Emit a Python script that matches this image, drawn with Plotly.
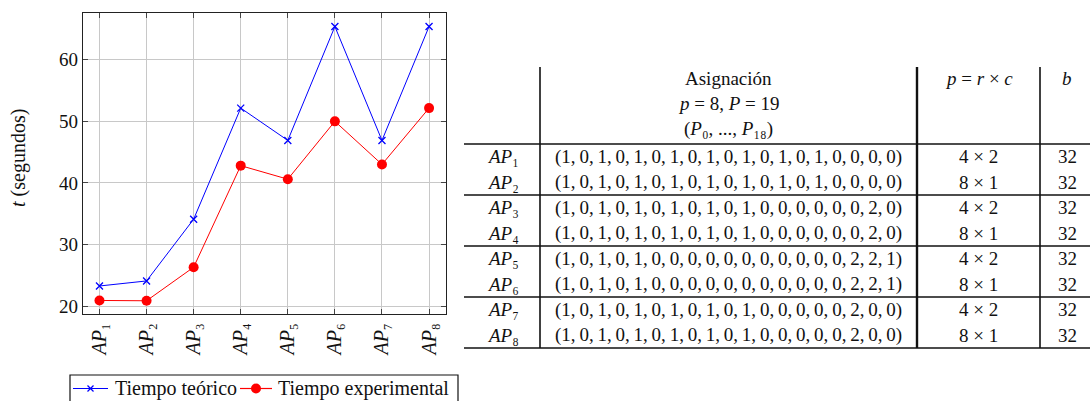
import plotly.graph_objects as go

# ---------------- data ----------------
SUB = str.maketrans("0123456789", "₀₁₂₃₄₅₆₇₈₉")
categories = ["AP1", "AP2", "AP3", "AP4", "AP5", "AP6", "AP7", "AP8"]
tick_labels = ["<i>AP</i>" + str(i).translate(SUB) for i in range(1, 9)]
t_teorico = [23.25, 24.07, 34.1, 52.15, 46.9, 65.4, 46.9, 65.4]
t_experimental = [20.9, 20.85, 26.3, 42.8, 40.6, 50.0, 43.0, 52.15]
y_ticks = [20, 30, 40, 50, 60]

asignaciones = [
    [1, 0, 1, 0, 1, 0, 1, 0, 1, 0, 1, 0, 1, 0, 1, 0, 0, 0, 0],
    [1, 0, 1, 0, 1, 0, 1, 0, 1, 0, 1, 0, 1, 0, 1, 0, 0, 0, 0],
    [1, 0, 1, 0, 1, 0, 1, 0, 1, 0, 1, 0, 0, 0, 0, 0, 0, 2, 0],
    [1, 0, 1, 0, 1, 0, 1, 0, 1, 0, 1, 0, 0, 0, 0, 0, 0, 2, 0],
    [1, 0, 1, 0, 1, 0, 0, 0, 0, 0, 0, 0, 0, 0, 0, 0, 2, 2, 1],
    [1, 0, 1, 0, 1, 0, 0, 0, 0, 0, 0, 0, 0, 0, 0, 0, 2, 2, 1],
    [1, 0, 1, 0, 1, 0, 1, 0, 1, 0, 1, 0, 0, 0, 0, 0, 2, 0, 0],
    [1, 0, 1, 0, 1, 0, 1, 0, 1, 0, 1, 0, 0, 0, 0, 0, 2, 0, 0],
]
mallas = ["4 × 2", "8 × 1", "4 × 2", "8 × 1", "4 × 2", "8 × 1", "4 × 2", "8 × 1"]
bloques = [32, 32, 32, 32, 32, 32, 32, 32]

header_asig = ["Asignación", "<i>p</i> = 8, <i>P</i> = 19",
               "(<i>P</i>₀, ..., <i>P</i>₁₈)"]
header_grid = "<i>p</i> = <i>r</i> × <i>c</i>"
header_b = "<i>b</i>"
series_names = ["Tiempo teórico", "Tiempo experimental"]
series_colors = ["#0000ff", "#ff0000"]

# ---------------- layout constants ----------------
W, H = 1090, 401
FONT = "Liberation Serif"
TXT = "#111111"
px_l, px_r, px_t, px_b = 83, 446, 13, 314


def px(xp):
    return xp / W


def py(yp):
    return 1 - yp / H


fig = go.Figure()

fig.add_trace(go.Scatter(
    x=categories, y=t_teorico, mode="lines+markers", name=series_names[0],
    line=dict(color=series_colors[0], width=1),
    marker=dict(symbol="x-thin", size=7, color=series_colors[0],
                line=dict(color=series_colors[0], width=1.3))))
fig.add_trace(go.Scatter(
    x=categories, y=t_experimental, mode="lines+markers", name=series_names[1],
    line=dict(color=series_colors[1], width=1),
    marker=dict(symbol="circle", size=10, color=series_colors[1])))

axis_common = dict(showline=True, linecolor="#222222", linewidth=1.3, mirror="ticks",
                   ticks="inside", ticklen=5, tickcolor="#444444", tickwidth=1,
                   showgrid=True, gridcolor="#c8c8c8", gridwidth=1, zeroline=False,
                   automargin=False)

fig.update_layout(
    width=W, height=H, margin=dict(l=0, r=0, t=0, b=0),
    paper_bgcolor="white", plot_bgcolor="white",
    font=dict(family=FONT, color=TXT),
    xaxis=dict(domain=[px(px_l), px(px_r)], type="category",
               range=[-0.35, 7.36], tickvals=categories, ticktext=tick_labels,
               tickangle=-90, tickfont=dict(family=FONT, size=20, color=TXT),
               **axis_common),
    yaxis=dict(domain=[py(px_b), py(px_t)], range=[18.7, 67.6],
               tickvals=y_ticks,
               tickfont=dict(family=FONT, size=19, color=TXT), **axis_common),
    showlegend=False,
)

# y axis title
fig.add_annotation(text="<i>t</i> (segundos)", textangle=-90, x=px(18), y=py(158),
                   xref="paper", yref="paper", showarrow=False,
                   xanchor="center", yanchor="middle",
                   font=dict(family=FONT, size=20, color=TXT))

# ---------------- legend (drawn box) ----------------
leg_top, leg_bot, leg_l, leg_r, leg_y = 375, 404, 70, 458, 388.5
fig.add_shape(type="rect", x0=px(leg_l), x1=px(leg_r), y0=py(leg_top), y1=py(leg_bot),
              xref="paper", yref="paper", line=dict(color=TXT, width=1.2),
              fillcolor="white", layer="above")
leg_items = [(73, 108, 113), (240, 272, 276)]
for k, (l0, l1, tx) in enumerate(leg_items):
    c = series_colors[k]
    fig.add_shape(type="line", x0=px(l0), x1=px(l1), y0=py(leg_y), y1=py(leg_y),
                  xref="paper", yref="paper", line=dict(color=c, width=1.2))
    mx = (l0 + l1) / 2
    if k == 0:
        for s in (1, -1):
            fig.add_shape(type="line", x0=px(mx - 3), x1=px(mx + 3),
                          y0=py(leg_y - 3 * s), y1=py(leg_y + 3 * s),
                          xref="paper", yref="paper", line=dict(color=c, width=1.3))
    else:
        fig.add_shape(type="circle", x0=px(mx - 5), x1=px(mx + 5),
                      y0=py(leg_y - 5), y1=py(leg_y + 5), xref="paper", yref="paper",
                      line=dict(color=c, width=0), fillcolor=c)
    fig.add_annotation(text=series_names[k], x=px(tx), y=py(leg_y), xref="paper",
                       yref="paper", showarrow=False, xanchor="left", yanchor="middle",
                       font=dict(family=FONT, size=20, color=TXT))

# ---------------- table (laid out in paper coordinates) ----------------
col_edges = [464, 540, 917, 1040, W]
col_centers = [503, (540 + 917) / 2, (917 + 1040) / 2, 1067]
head_top, head_bot, row_h = 67, 144, 25.5


def ann(text, x, y, size=19):
    fig.add_annotation(text=text, x=px(x), y=py(y), xref="paper", yref="paper",
                       showarrow=False, xanchor="center", yanchor="middle",
                       font=dict(family=FONT, size=size, color=TXT))


# header
for k, line in enumerate(header_asig):
    ann(line, col_centers[1], 78 + k * 25.5)
ann(header_grid, col_centers[2], 78)
ann(header_b, col_centers[3], 78)

# body
for i in range(len(categories)):
    yc = head_bot + row_h * (i + 0.5)
    ann(tick_labels[i], col_centers[0], yc)
    ann("(" + ",\u2009".join(str(v) for v in asignaciones[i]) + ")", col_centers[1], yc)
    ann(mallas[i], col_centers[2], yc)
    ann(str(bloques[i]), col_centers[3], yc)

table_bot = head_bot + row_h * len(categories)
# vertical rules
for xe, wd in [(col_edges[1], 1.6), (col_edges[2], 2.4), (col_edges[3], 1.6)]:
    fig.add_shape(type="line", x0=px(xe), x1=px(xe), y0=py(head_top), y1=py(table_bot),
                  xref="paper", yref="paper", line=dict(color=TXT, width=wd))
# horizontal rules
for r in [0, 2, 4, 6, 8]:
    yy = head_bot + row_h * r
    fig.add_shape(type="line", x0=px(col_edges[0]), x1=1, y0=py(yy), y1=py(yy),
                  xref="paper", yref="paper", line=dict(color=TXT, width=1.6))

fig.write_html("out.html")
